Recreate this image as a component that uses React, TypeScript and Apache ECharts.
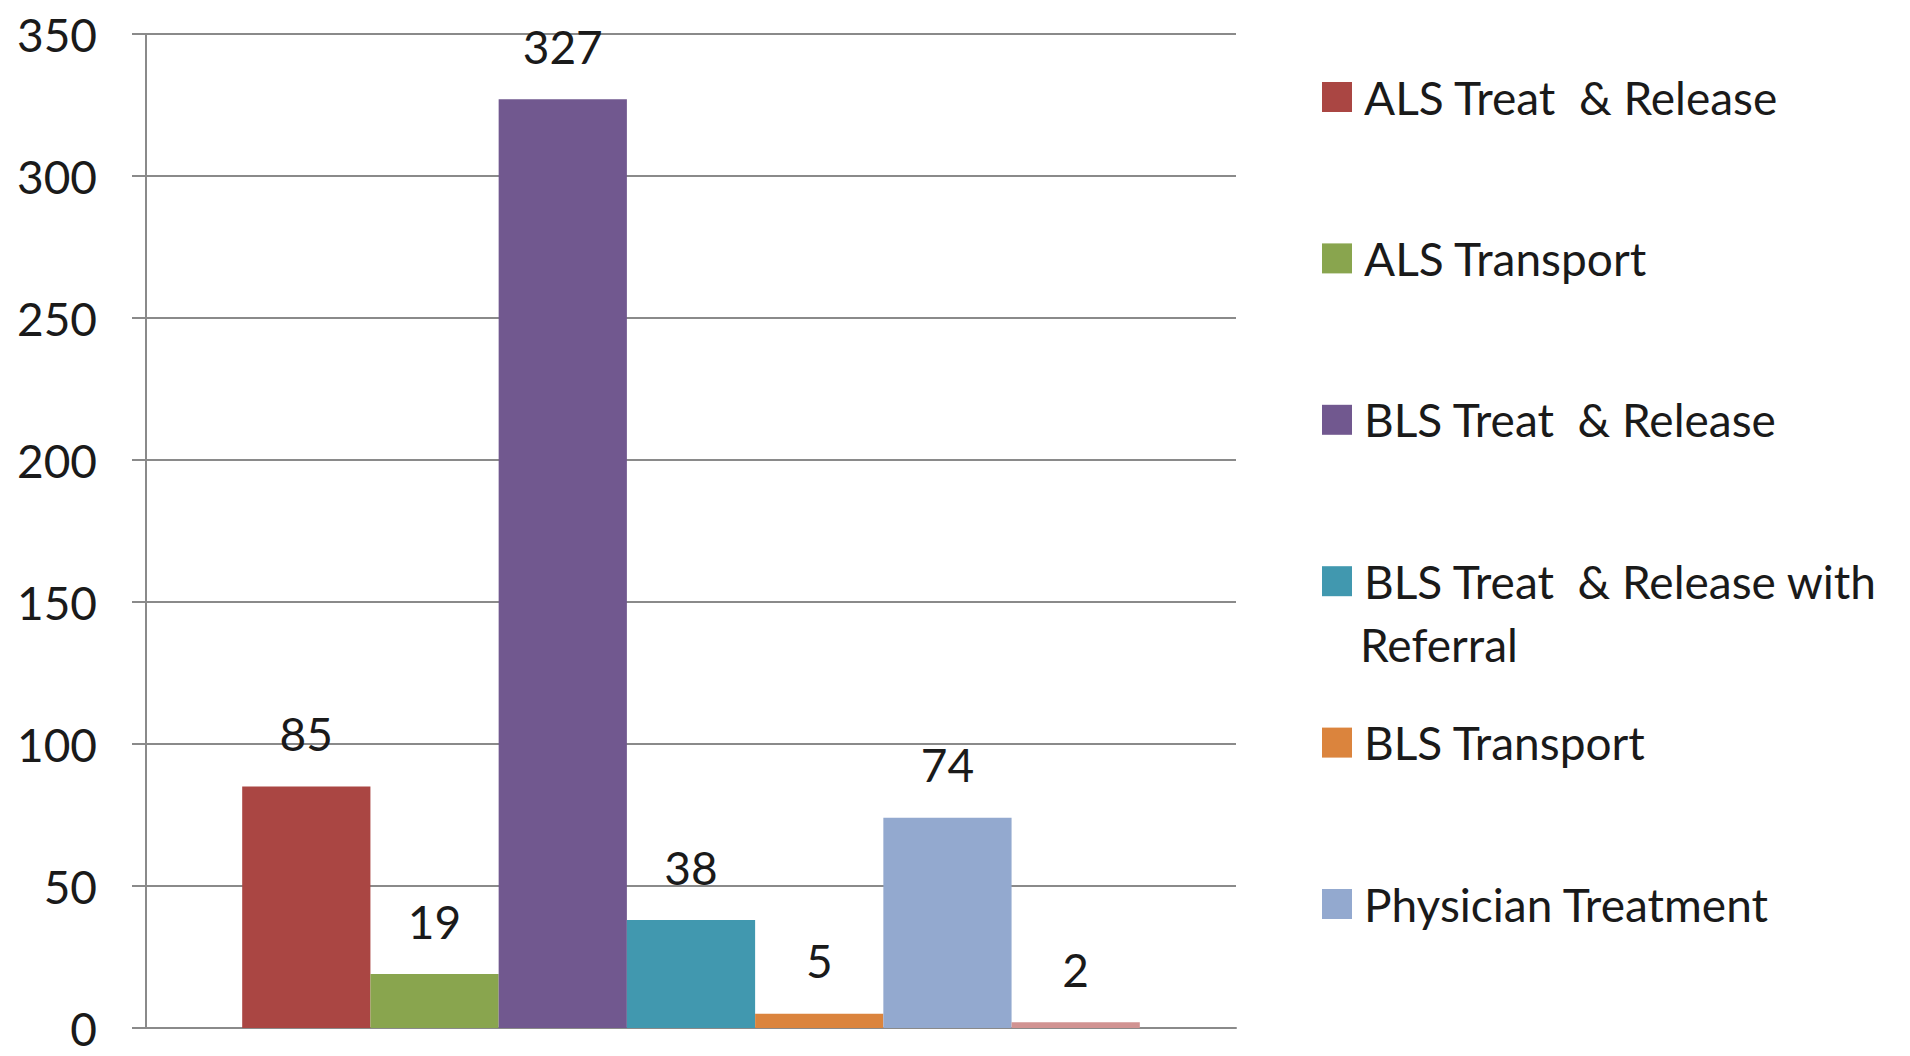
import React, { useEffect, useRef } from "react";
import * as echarts from "echarts";

const categories = ["Calls"];
const seriesNames = [
  "ALS Treat & Release",
  "ALS Transport",
  "BLS Treat & Release",
  "BLS Treat & Release with Referral",
  "BLS Transport",
  "Physician Treatment",
  "Other",
];
const seriesValues = [85, 19, 327, 38, 5, 74, 2];
const seriesColors = ["#AA4643", "#89A54E", "#71588F", "#4198AF", "#DB843D", "#93A9CF", "#D19392"];
const legendNames = seriesNames.slice(0, 6);
const yMin = 0;
const yMax = 350;
const yInterval = 50;

const FONT = "Lato";
const FS = 46;

export default function App() {
  const ref = useRef<HTMLDivElement>(null);
  useEffect(() => {
    if (!ref.current) return;
    const chart = echarts.init(ref.current, undefined, { renderer: "svg" });
    const grey = "#8a8a8a";
    chart.setOption({
      animation: false,
      backgroundColor: "#ffffff",
      textStyle: { fontFamily: FONT },
      grid: { left: 146, right: 674, top: 34, bottom: 28, containLabel: false },
      xAxis: {
        type: "category",
        data: categories,
        axisLine: { show: true, lineStyle: { color: grey, width: 2 } },
        axisTick: { show: false },
        axisLabel: { show: false },
      },
      yAxis: {
        type: "value",
        min: yMin,
        max: yMax,
        interval: yInterval,
        axisLine: { show: true, lineStyle: { color: grey, width: 2 } },
        axisTick: { show: true, length: 14, lineStyle: { color: grey, width: 2 } },
        axisLabel: { margin: 49, color: "#1a1a1a", fontFamily: FONT, fontSize: FS, lineHeight: 30 },
        splitLine: { show: true, lineStyle: { color: grey, width: 2 } },
      },
      legend: {
        data: legendNames,
        orient: "vertical",
        left: 1317,
        top: 69,
        itemWidth: 30,
        itemHeight: 30,
        itemGap: 161.4 - 46,
        icon: "rect",
        selectedMode: false,
        formatter: (name: string) =>
          name === "BLS Treat & Release with Referral" ? "BLS Treat  & Release with" : name.replace(" & ", "  & "),
        textStyle: { fontFamily: FONT, fontSize: FS, color: "#1a1a1a", lineHeight: 46, padding: [0, 0, 0, 7] },
      },
      graphic: [
        {
          type: "text",
          left: 1360,
          top: 645 - 24,
          style: { text: "Referral", fontFamily: FONT, fontSize: FS, fill: "#1a1a1a" },
        },
      ],
      series: seriesNames.map((name, i) => ({
        type: "bar",
        name,
        data: [seriesValues[i]],
        itemStyle: { color: seriesColors[i] },
        barGap: "0%",
        barCategoryGap: "17.65%",
        label: {
          show: true,
          position: "top",
          distance: 30,
          color: "#1a1a1a",
          fontFamily: FONT,
          fontSize: FS,
        },
      })),
    });
    return () => chart.dispose();
  }, []);
  return (
    <div
      ref={ref}
      style={{ position: "fixed", left: 0, top: 0, width: 1910, height: 1056 }}
    />
  );
}
